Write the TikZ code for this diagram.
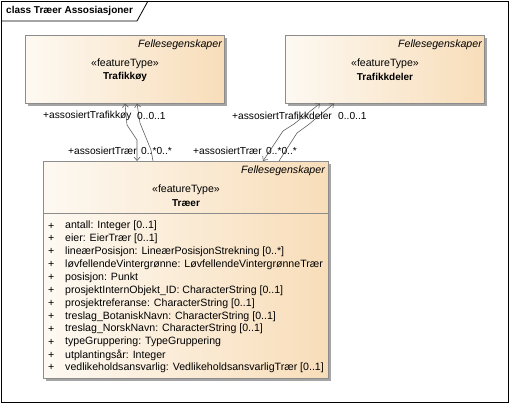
\documentclass[tikz,border=0pt]{standalone}
\usepackage{fontspec}
\setmainfont{Liberation Sans}
\usetikzlibrary{arrows.meta,shadows}
\definecolor{boxL}{RGB}{253,249,242}
\definecolor{boxR}{RGB}{248,221,185}
\definecolor{bgray}{RGB}{140,140,140}
\definecolor{sgray}{RGB}{165,165,165}
\definecolor{cgray}{RGB}{95,95,95}
\begin{document}
\begin{tikzpicture}[x=1pt,y=-1pt,
  umlbox/.style={draw=bgray, line width=0.8pt, left color=boxL, right color=boxR,
    inner sep=0pt, anchor=north west,
    drop shadow={shadow xshift=3pt, shadow yshift=-3pt, fill=sgray, opacity=1}},
  txt/.style={inner sep=0pt, font=\fontsize{10.6}{12}\selectfont},
  hdr/.style={inner sep=0pt, anchor=east, font=\fontsize{10.6}{12}\selectfont\itshape},
  nm/.style={inner sep=0pt, font=\fontsize{10}{12}\selectfont\bfseries},
  attr/.style={inner sep=0pt, anchor=west, font=\fontsize{10.6}{12}\selectfont},
  lbl/.style={inner sep=0pt, anchor=west, font=\fontsize{10.2}{12}\selectfont},
  conn/.style={draw=cgray, line width=0.6pt},
  >={Straight Barb[length=3.5pt,width=6pt]}
]
\useasboundingbox (0,0) rectangle (510,404);
% frame
\draw[black, line width=0.8pt] (1,1) rectangle (508.5,402.5);
\draw[black, line width=0.8pt] (1,21) -- (137,21) -- (148,1);
\node[anchor=west, inner sep=0pt, font=\fontsize{10}{12}\selectfont\bfseries] (title) at (6,10.5) {class Træer Assosiasjoner};

% boxes
\node[umlbox, minimum width=199pt, minimum height=68pt] (tk) at (25,35) {};
\node[hdr] (tkh) at (222,45) {Fellesegenskaper};
\node[txt] (tks) at (125,64) {«featureType»};
\node[nm] (tkn) at (125,77) {Trafikkøy};

\node[umlbox, minimum width=199pt, minimum height=68pt] (td) at (285,35) {};
\node[hdr] (tdh) at (482,45) {Fellesegenskaper};
\node[txt] (tds) at (385,64) {«featureType»};
\node[nm] (tdn) at (385,77) {Trafikkdeler};

\node[umlbox, minimum width=285pt, minimum height=217pt] (tr) at (43,161) {};
\node[hdr] (trh) at (325,171) {Fellesegenskaper};
\node[txt] (trs) at (186,190) {«featureType»};
\node[nm] (trn) at (186,203) {Træer};
\coordinate (sepy) at (0,213.5);
\draw[bgray, line width=0.8pt] (tr.west |- sepy) -- (tr.east |- sepy);

\foreach [count=\i from 0] \t in {
  antall: Integer [0..1],
  eier: EierTrær [0..1],
  lineærPosisjon: LineærPosisjonStrekning [0..*],
  løvfellendeVintergrønne: LøvfellendeVintergrønneTrær,
  posisjon: Punkt,
  prosjektInternObjekt\_ID: CharacterString [0..1],
  prosjektreferanse: CharacterString [0..1],
  treslag\_BotaniskNavn: CharacterString [0..1],
  treslag\_NorskNavn: CharacterString [0..1],
  typeGruppering: TypeGruppering,
  utplantingsår: Integer,
  vedlikeholdsansvarlig: VedlikeholdsansvarligTrær [0..1]} {
  \node[attr] (pl\i) at (48,{226+12.9*\i}) {+};
  \node[attr] (at\i) at (65,{226+12.9*\i}) {\t};
}

% connectors Trafikkøy - Træer
\coordinate (a1) at (125,103.5);
\coordinate (a2) at (127,125);
\coordinate (a3) at (137,140);
\coordinate (a4) at (137,161);
\draw[conn,<->] (a1) -- (a2) -- (a3) -- (a4);
\coordinate (b1) at (137,103.5);
\coordinate (b2) at (140,123);
\coordinate (b3) at (151,150);
\coordinate (b4) at (153,161);
\draw[conn,<-] (b1) -- (b2) -- (b3) -- (b4);

% connectors Trafikkdeler - Træer
\coordinate (c1) at (320,103.5);
\coordinate (c2) at (294,124);
\coordinate (c3) at (283,131);
\coordinate (c4) at (263,161);
\draw[conn,<->] (c1) -- (c2) -- (c3) -- (c4);
\coordinate (d1) at (334,103.5);
\coordinate (d2) at (308,125);
\coordinate (d3) at (297,133);
\coordinate (d4) at (279,161);
\draw[conn,<-] (d1) -- (d2) -- (d3) -- (d4);

% labels
\node[lbl] (l1) at (43,116) {+assosiertTrafikkøy};
\node[lbl] (l2) at (137,116) {0..0..1};
\node[lbl] (l3) at (68,151) {+assosiertTrær};
\node[lbl] (l4) at (141,151) {0..*0..*};
\node[lbl] (l5) at (232,116) {+assosiertTrafikkdeler};
\node[lbl] (l6) at (338,116) {0..0..1};
\node[lbl] (l7) at (193,151) {+assosiertTrær};
\node[lbl] (l8) at (266,151) {0..*0..*};
\end{tikzpicture}
\end{document}
